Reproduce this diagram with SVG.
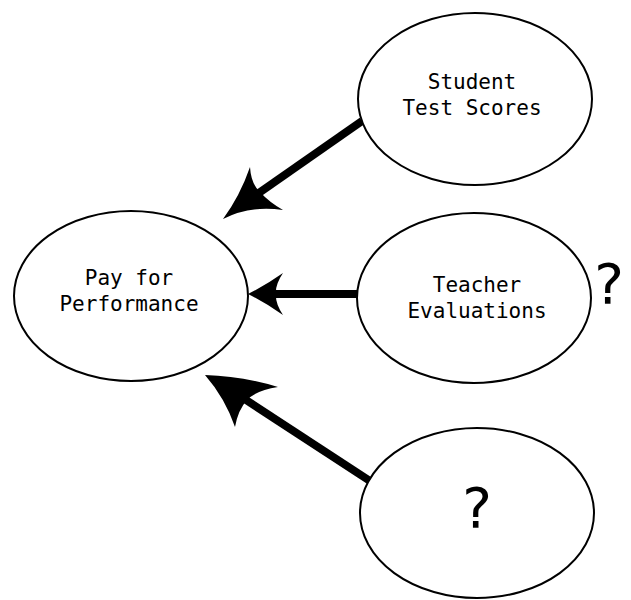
<svg xmlns="http://www.w3.org/2000/svg" width="631" height="600" viewBox="0 0 631 600">
<style>
.node ellipse{fill:#fff;stroke:#000;stroke-width:2}
.lbl{font-family:"DejaVu Sans Mono","Liberation Mono",monospace;font-size:21px;fill:#000;text-anchor:middle}
.q{font-family:"DejaVu Sans","Liberation Sans",sans-serif;font-size:56px;fill:#000;text-anchor:middle}
.shaft{stroke:#000;stroke-width:8;fill:none}
.head{fill:#000;stroke:none}
</style>
<rect width="631" height="600" fill="#fff"/>
<g id="connectors">
<line class="shaft" x1="362" y1="121" x2="256" y2="195"/>
<path class="head" d="M223,219 Q240,196 250,167 Q251,184 260,192 Q269,202 283,210 Q250,205 223,219 Z"/>
<line class="shaft" x1="358" y1="294" x2="274" y2="294"/>
<path class="head" d="M248,294 Q266,285 283,273 Q275,285 276,294 Q275,303 283,315 Q266,303 248,294 Z"/>
<line class="shaft" x1="370" y1="481" x2="243" y2="398"/>
<path class="head" d="M205,375 Q242,376 278,387 Q257,390 247,400 Q238,410 235,427 Q225,398 205,375 Z"/>
</g>
<g id="pay" class="node">
<ellipse cx="131" cy="296" rx="117" ry="85"/>
<text class="lbl" x="129" y="285">Pay for</text>
<text class="lbl" x="129" y="311">Performance</text>
</g>
<g id="student" class="node">
<ellipse cx="475" cy="99" rx="117" ry="86"/>
<text class="lbl" x="472" y="89">Student</text>
<text class="lbl" x="472" y="115">Test Scores</text>
</g>
<g id="teacher" class="node">
<ellipse cx="474" cy="298" rx="117" ry="85"/>
<text class="lbl" x="477" y="292">Teacher</text>
<text class="lbl" x="477" y="318">Evaluations</text>
</g>
<g id="unknown" class="node">
<ellipse cx="477" cy="513" rx="117" ry="85"/>
<text class="q" x="477" y="527">?</text>
</g>
<text class="q" x="609" y="303">?</text>
</svg>
